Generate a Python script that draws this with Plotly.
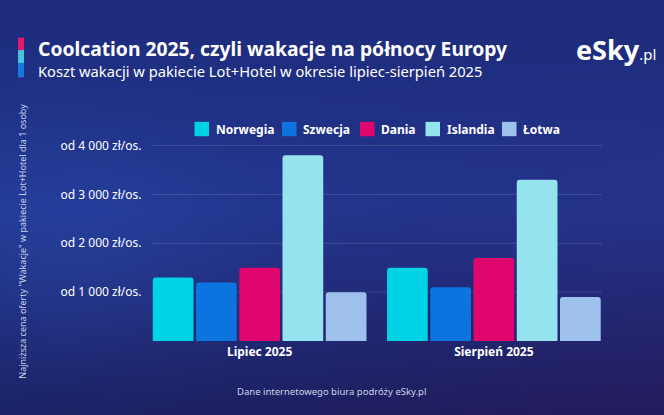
import base64, zlib, struct
import numpy as np
import plotly.graph_objects as go

# ---------------- data ----------------
months = ["Lipiec 2025", "Sierpień 2025"]
countries = ["Norwegia", "Szwecja", "Dania", "Islandia", "Łotwa"]
norwegia = [1300, 1500]
szwecja = [1200, 1100]
dania = [1500, 1700]
islandia = [3800, 3300]
lotwa = [1000, 900]
series_values = [norwegia, szwecja, dania, islandia, lotwa]
colors = ["#00d3e6", "#0b74df", "#e1066d", "#96e3f0", "#9dc1ec"]
tick_vals = [1000, 2000, 3000, 4000]
tick_text = ["od 1 000 zł/os.", "od 2 000 zł/os.", "od 3 000 zł/os.", "od 4 000 zł/os."]

W, H = 664, 415
FONT = "Noto Sans"

def px_x(p):
    return p / W

def px_y(p):
    return 1 - p / H

# ---------------- background gradient image ----------------
def make_png(arr):
    h, w, _ = arr.shape
    raw = b"".join(b"\x00" + arr[i].tobytes() for i in range(h))
    def chunk(t, d):
        c = struct.pack(">I", len(d)) + t + d
        return c + struct.pack(">I", zlib.crc32(t + d) & 0xffffffff)
    png = b"\x89PNG\r\n\x1a\n"
    png += chunk(b"IHDR", struct.pack(">IIBBBBB", w, h, 8, 2, 0, 0, 0))
    png += chunk(b"IDAT", zlib.compress(raw, 9))
    png += chunk(b"IEND", b"")
    return "data:image/png;base64," + base64.b64encode(png).decode()

gh, gw = 104, 166
yy, xx = np.mgrid[0:gh, 0:gw]
fy = yy / (gh - 1)
fx = xx / (gw - 1)
top = np.array([30, 44, 124])
mid = np.array([32, 54, 142])
bot = np.array([26, 34, 100])
t = fy[..., None]
col = np.where(t < 0.5, top + (mid - top) * (t / 0.5), mid + (bot - mid) * ((t - 0.5) / 0.5))
col = col + np.stack([10 * fx * fy, -6 * fx * fy, -8 * fx * fy], axis=-1)
haze = np.exp(-(((fx - 0.1) / 0.25) ** 2 + ((fy - 0.6) / 0.3) ** 2))
col = col + haze[..., None] * np.array([6, 10, 16])
img = np.clip(col, 0, 255).astype(np.uint8)
bg_uri = make_png(img)

# ---------------- figure ----------------
fig = go.Figure()
for name, vals, c in zip(countries, series_values, colors):
    fig.add_trace(go.Bar(
        name=name, x=months, y=vals, marker=dict(color=c, line=dict(width=0)),
        showlegend=False, hoverinfo="skip",
    ))

plot_l, plot_r = 142.5, 611.0
base_y, top_y = 340.3, 138.0

shapes = []
for v in tick_vals:
    shapes.append(dict(type="line", xref="paper", yref="y", x0=px_x(152), x1=px_x(602),
                       y0=v, y1=v, line=dict(color="rgba(255,255,255,0.13)", width=1), layer="below"))
for (y0, y1, c) in [(34, 46.5, "#e5186e"), (46.5, 60, "#43c3dd"), (60, 74, "#1679e0")]:
    shapes.append(dict(type="rect", xref="paper", yref="paper", x0=px_x(18), x1=px_x(24),
                       y0=px_y(y1), y1=px_y(y0), fillcolor=c, line=dict(width=0)))

annotations = []
legend_sq_left = [194.5, 282, 360, 425.5, 502]
for name, c, lx in zip(countries, colors, legend_sq_left):
    shapes.append(dict(type="rect", xref="paper", yref="paper", x0=px_x(lx), x1=px_x(lx + 14.5),
                       y0=px_y(133.5), y1=px_y(119), fillcolor=c, line=dict(width=0)))
    annotations.append(dict(x=px_x(lx + 19), y=px_y(126.5), xref="paper", yref="paper",
                            text="<b>%s</b>" % name, showarrow=False, xanchor="left", yanchor="middle",
                            font=dict(family=FONT, size=12, color="white")))

annotations.append(dict(x=px_x(36), y=px_y(44.5), xref="paper", yref="paper",
                        text="<b>Coolcation 2025, czyli wakacje na północy Europy</b>", showarrow=False,
                        xanchor="left", yanchor="middle", font=dict(family=FONT, size=19.3, color="white")))
annotations.append(dict(x=px_x(36), y=px_y(68), xref="paper", yref="paper",
                        text="Koszt wakacji w pakiecie Lot+Hotel w okresie lipiec-sierpień 2025", showarrow=False,
                        xanchor="left", yanchor="middle", font=dict(family=FONT, size=14.7, color="white")))
annotations.append(dict(x=px_x(574), y=px_y(46), xref="paper", yref="paper",
                        text="<b>eSky</b><span style='font-size:15px'>.pl</span>", showarrow=False,
                        xanchor="left", yanchor="middle", font=dict(family=FONT, size=27, color="white")))
annotations.append(dict(x=px_x(23), y=px_y(240), xref="paper", yref="paper",
                        text='Najniższa cena oferty "Wakacje" w pakiecie Lot+Hotel dla 1 osoby', showarrow=False,
                        textangle=-90, xanchor="center", yanchor="middle",
                        font=dict(family=FONT, size=9, color="#c9d1ea")))
annotations.append(dict(x=px_x(331), y=px_y(391), xref="paper", yref="paper",
                        text="Dane internetowego biura podróży eSky.pl", showarrow=False,
                        xanchor="center", yanchor="middle", font=dict(family=FONT, size=9.5, color="#cdd2e6")))

fig.update_layout(
    width=W, height=H,
    margin=dict(l=0, r=0, t=0, b=0),
    paper_bgcolor="#1d2c7c", plot_bgcolor="rgba(0,0,0,0)",
    barmode="group", bargap=0.077, bargroupgap=0.058, barcornerradius=3,
    font=dict(family=FONT, color="white"),
    xaxis=dict(domain=[px_x(plot_l), px_x(plot_r)], showgrid=False, zeroline=False, showline=False,
               ticks="", tickfont=dict(family=FONT, size=12, color="white"), ticklabelstandoff=2),
    yaxis=dict(domain=[1 - base_y / H, 1 - top_y / H], range=[0, 4100], tickvals=tick_vals, ticktext=tick_text,
               showgrid=False, zeroline=False, showline=False, ticks="", ticklabelstandoff=0,
               tickfont=dict(family=FONT, size=12, color="white")),
    shapes=shapes, annotations=annotations,
    images=[dict(source=bg_uri, xref="paper", yref="paper", x=0, y=1, sizex=1, sizey=1,
                 sizing="stretch", layer="below", xanchor="left", yanchor="top")],
)
fig.update_xaxes(tickprefix="<b>", ticksuffix="</b>")
fig.update_yaxes(tickprefix="<b>", ticksuffix="</b>")

fig.write_html("out.html", config={"displayModeBar": False},
               post_script="document.body.style.margin='0';document.body.style.overflow='hidden';")
